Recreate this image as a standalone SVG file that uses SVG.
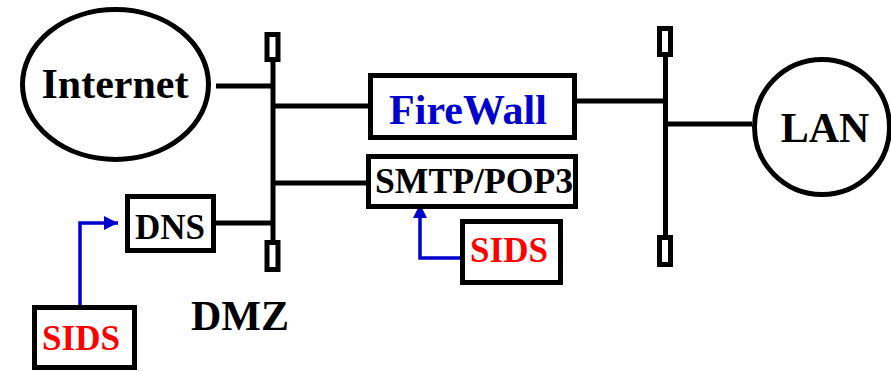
<svg xmlns="http://www.w3.org/2000/svg" width="891" height="371" viewBox="0 0 891 371">
<defs>
<style>
.ln{stroke:#000;stroke-width:5;fill:none}
.bx{stroke:#000;stroke-width:5;fill:#fff}
.t{font-family:"Liberation Serif","Times New Roman",serif;font-weight:bold;fill:#000}
.blue{stroke:#0000CC;stroke-width:3.5;fill:none}
</style>
<marker id="ah" viewBox="0 0 10 10" refX="10" refY="5" markerWidth="5" markerHeight="4" markerUnits="strokeWidth" orient="auto">
<path d="M0,0 L10,5 L0,10 Z" fill="#0000CC"/>
</marker>
</defs>
<rect width="891" height="371" fill="#fff"/>
<g id="connectors">
<line class="ln" x1="273" y1="60" x2="273" y2="242"/>
<line class="ln" x1="665.5" y1="55" x2="665.5" y2="237"/>
<line class="ln" x1="216" y1="86" x2="273" y2="86"/>
<line class="ln" x1="273" y1="106" x2="368" y2="106"/>
<line class="ln" x1="273" y1="183" x2="366" y2="183"/>
<line class="ln" x1="216" y1="223" x2="273" y2="223"/>
<line class="ln" x1="577" y1="101" x2="665.5" y2="101"/>
<line class="ln" x1="665.5" y1="124" x2="752" y2="124"/>
<path class="blue" d="M80,307 V223 H118" marker-end="url(#ah)"/>
<path class="blue" d="M460,258 H420 V204" marker-end="url(#ah)"/>
</g>
<g id="caps">
<rect class="bx" x="267" y="34.5" width="11" height="25"/>
<rect class="bx" x="267" y="242.5" width="11" height="27"/>
<rect class="bx" x="659.5" y="28.5" width="11" height="26"/>
<rect class="bx" x="659.5" y="237.5" width="11" height="27"/>
</g>
<g id="internet">
<ellipse class="bx" cx="115.5" cy="84.5" rx="93" ry="75"/>
<text class="t" x="115" y="98" font-size="42" text-anchor="middle">Internet</text>
</g>
<g id="firewall">
<rect class="bx" x="370.5" y="75.5" width="204" height="62"/>
<text class="t" x="468" y="124" font-size="42" text-anchor="middle" style="fill:#0000CC">FireWall</text>
</g>
<g id="lan">
<circle class="bx" cx="822" cy="127" r="67.5"/>
<text class="t" x="825" y="142" font-size="42" text-anchor="middle">LAN</text>
</g>
<g id="smtp">
<rect class="bx" x="368.5" y="156.5" width="207" height="50"/>
<text class="t" x="474" y="193" font-size="35" text-anchor="middle" textLength="198" lengthAdjust="spacingAndGlyphs">SMTP/POP3</text>
</g>
<g id="dns">
<rect class="bx" x="127.5" y="196.5" width="86" height="54"/>
<text class="t" x="170" y="239" font-size="35" text-anchor="middle">DNS</text>
</g>
<g id="sids1">
<rect class="bx" x="34.5" y="307.5" width="100" height="60"/>
<text class="t" x="81" y="350" font-size="35" text-anchor="middle" style="fill:#FF0000">SIDS</text>
</g>
<g id="sids2">
<rect class="bx" x="462.5" y="221.5" width="98" height="61"/>
<text class="t" x="509" y="262" font-size="35" text-anchor="middle" style="fill:#FF0000">SIDS</text>
</g>
<g id="dmz">
<text class="t" x="240" y="330" font-size="42" text-anchor="middle">DMZ</text>
</g>
</svg>
